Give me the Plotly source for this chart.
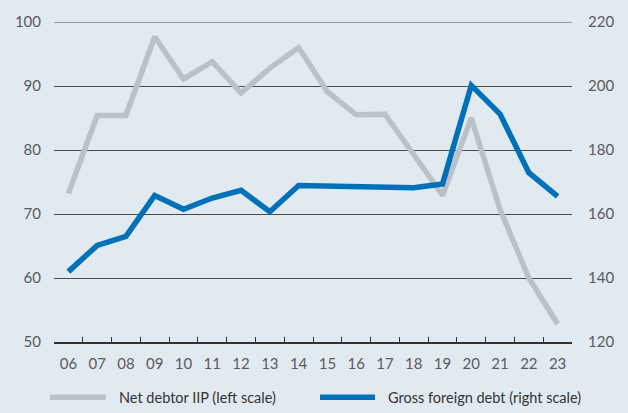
import plotly.graph_objects as go

years = ["06", "07", "08", "09", "10", "11", "12", "13", "14", "15", "16", "17", "18", "19", "20", "21", "22", "23"]
net_debtor_iip = [73.2, 85.4, 85.4, 97.7, 91.1, 93.8, 88.9, 92.8, 96.0, 89.1, 85.5, 85.6, 79.3, 72.9, 85.0, 70.7, 60.0, 52.8]
gross_foreign_debt = [142.0, 150.2, 153.0, 165.8, 161.5, 165.0, 167.4, 160.7, 168.9, 168.8, 168.6, 168.4, 168.2, 169.4, 200.2, 191.2, 172.9, 165.5]
left_ticks = [50, 60, 70, 80, 90, 100]
right_ticks = [120, 140, 160, 180, 200, 220]
series_names = ["Net debtor IIP (left scale)", "Gross foreign debt (right scale)"]

GREY = "#b9c2c7"
BLUE = "#0071b9"
BG = "#e2eaf1"
FONT = "Lato"
TICKCOL = "#5a5a5a"
GRID = "#4a4a4a"

fig = go.Figure()
fig.add_trace(go.Scatter(x=years, y=net_debtor_iip, mode="lines", name=series_names[0],
                         line=dict(color=GREY, width=5.5), yaxis="y", showlegend=False))
fig.add_trace(go.Scatter(x=years, y=gross_foreign_debt, mode="lines", name=series_names[1],
                         line=dict(color=BLUE, width=5.5), yaxis="y2", showlegend=False))

fig.update_layout(
    width=628, height=413,
    margin=dict(l=54, r=56, t=18, b=71),
    paper_bgcolor=BG, plot_bgcolor=BG,
    font=dict(family=FONT, size=15, color=TICKCOL),
    xaxis=dict(type="category", range=[-0.5, 17.5], tickson="boundaries", ticks="inside",
               ticklen=5, tickcolor="#333", tickwidth=1, showline=True, linecolor="#333",
               linewidth=1.5, showgrid=False, zeroline=False, ticklabelstandoff=7,
               tickfont=dict(size=15, color=TICKCOL)),
    yaxis=dict(range=[50, 100], tickvals=left_ticks, showgrid=True, gridcolor=GRID,
               gridwidth=1, zeroline=False, showline=False, ticks="", ticklabelstandoff=12,
               tickfont=dict(size=15, color=TICKCOL)),
    yaxis2=dict(range=[120, 220], tickvals=right_ticks, overlaying="y", side="right",
                showgrid=False, zeroline=False, showline=False, ticks="", ticklabelstandoff=15,
                tickfont=dict(size=15, color=TICKCOL)),
)

# top gridline (plotly drops gridlines that sit on the plot edge)
fig.add_shape(type="line", xref="paper", yref="y", x0=0, x1=1, y0=left_ticks[-1], y1=left_ticks[-1],
              line=dict(color=GRID, width=1), layer="below")

# manual legend
legend_items = [(50, 106, 117, GREY, series_names[0]), (320, 375, 386, BLUE, series_names[1])]
for x0, x1, xt, col, txt in legend_items:
    fig.add_shape(type="line", xref="paper", yref="paper",
                  x0=(x0 - 54) / 518, x1=(x1 - 54) / 518,
                  y0=-(398 - 342) / 324, y1=-(398 - 342) / 324,
                  line=dict(color=col, width=5.5))
    fig.add_annotation(xref="paper", yref="paper", x=(xt - 54) / 518, y=-(398 - 342) / 324,
                       text=txt, showarrow=False, xanchor="left", yanchor="middle",
                       font=dict(family=FONT, size=14.5, color="#333333"))

fig.write_html("out.html", config={"displayModeBar": False},
               post_script="document.body.style.margin='0';document.body.style.overflow='hidden';")
